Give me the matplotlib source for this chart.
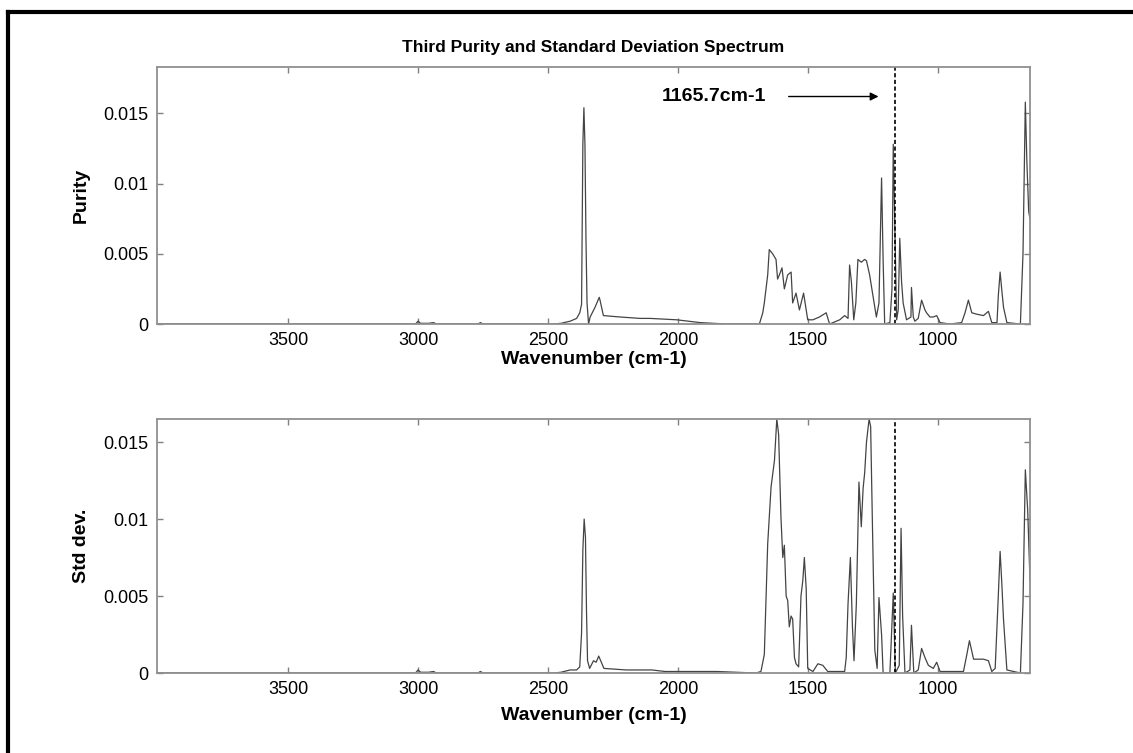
import numpy as np
import matplotlib
matplotlib.use("Agg")
import matplotlib.pyplot as plt
from matplotlib.lines import Line2D
from matplotlib.ticker import FixedLocator, FuncFormatter

plt.rcParams['font.family'] = ['Liberation Sans', 'DejaVu Sans']

# Purity spectrum (wavenumber cm-1, value)
purity_wn = [4000, 3010, 3000, 2990, 2960, 2940, 2930, 2770, 2760, 2750,
             2480, 2450, 2415, 2390, 2378, 2371, 2366, 2362, 2358, 2354,
             2350, 2344, 2338, 2319, 2303, 2300, 2287, 2223, 2146, 2108,
             2005, 1915, 1813, 1687, 1674, 1668, 1655, 1649, 1636, 1623,
             1617, 1610, 1600, 1591, 1578, 1565, 1559, 1546, 1533, 1517,
             1501, 1481, 1456, 1430, 1417, 1378, 1359, 1346, 1340, 1333,
             1324, 1316, 1308, 1295, 1282, 1275, 1263, 1250, 1237, 1227,
             1217, 1211, 1205, 1185, 1177, 1172, 1166, 1159, 1153, 1147,
             1140, 1134, 1121, 1104, 1102, 1095, 1089, 1076, 1063, 1050,
             1044, 1031, 1018, 1005, 992, 954, 909, 896, 883, 870,
             851, 825, 806, 793, 773, 768, 761, 755, 748, 735,
             683, 673, 668, 664, 658, 651, 646]
purity_val = [0, 0, 0.0002, 0.00005, 0.00005, 0.0001, 0, 0, 0.0001, 0,
              0, 0.00005, 0.0002, 0.0004, 0.0008, 0.0014, 0.0128, 0.0154, 0.0128, 0.006,
              0.0015, 0.0, 0.0005, 0.0012, 0.0019, 0.0017, 0.0006, 0.0005, 0.0004, 0.0004,
              0.0003, 0.0001, 0, 0, 0.0008, 0.0015, 0.0035, 0.0053, 0.0050, 0.0046,
              0.0032, 0.0035, 0.0040, 0.0025, 0.0035, 0.0037, 0.0015, 0.0022, 0.0010, 0.0022,
              0.0003, 0.0003, 0.0005, 0.0008, 0.0, 0.0003, 0.0006, 0.0004, 0.0042, 0.0030,
              0.0003, 0.0015, 0.0046, 0.0044, 0.0046, 0.0045, 0.0035, 0.0020, 0.0005, 0.0015,
              0.0104, 0.0045, 0.0, 0.0001, 0.0025, 0.0128, 0.0070, 0.0003, 0.0010, 0.0061,
              0.0030, 0.0015, 0.0003, 0.0005, 0.0026, 0.0005, 0.0002, 0.0004, 0.0017, 0.0010,
              0.0008, 0.0005, 0.0005, 0.0006, 0.0001, 0.0, 0.0001, 0.0008, 0.0017, 0.0008,
              0.0007, 0.0006, 0.0009, 0.0001, 0.0001, 0.0020, 0.0037, 0.0025, 0.0012, 0.0001,
              0.0, 0.0050, 0.0110, 0.0158, 0.0115, 0.0080, 0.0075]

# Standard deviation spectrum
std_wn = [4000, 3010, 3000, 2990, 2960, 2940, 2930, 2770, 2760, 2750,
          2480, 2450, 2415, 2390, 2378, 2371, 2366, 2361, 2356, 2352,
          2348, 2340, 2325, 2315, 2305, 2295, 2285, 2200, 2100, 2050,
          1950, 1850, 1700, 1681, 1668, 1655, 1642, 1629, 1620, 1613,
          1604, 1597, 1591, 1584, 1578, 1572, 1565, 1559, 1552, 1546,
          1536, 1527, 1520, 1514, 1507, 1501, 1481, 1462, 1443, 1424,
          1359, 1353, 1346, 1337, 1329, 1323, 1314, 1304, 1295, 1288,
          1282, 1275, 1265, 1259, 1252, 1243, 1234, 1227, 1217, 1211,
          1185, 1172, 1164, 1149, 1142, 1136, 1127, 1108, 1102, 1093,
          1076, 1063, 1050, 1037, 1018, 1005, 992, 902, 889, 879,
          863, 825, 806, 793, 780, 768, 761, 755, 748, 735,
          683, 673, 664, 655, 646]
std_val = [0, 0, 0.0002, 0.00005, 0.00005, 0.0001, 0, 0, 0.0001, 0,
           0, 0.00005, 0.0002, 0.0002, 0.0004, 0.0026, 0.0080, 0.0100, 0.0088, 0.0040,
           0.0008, 0.0003, 0.0008, 0.0007, 0.0011, 0.0007, 0.0003, 0.0002, 0.0002, 0.0001,
           0.0001, 0.0001, 0, 0.0001, 0.0012, 0.0084, 0.0121, 0.0138, 0.0165, 0.0155,
           0.0101, 0.0075, 0.0083, 0.0050, 0.0047, 0.0030, 0.0037, 0.0035, 0.0010, 0.0006,
           0.0004, 0.0050, 0.0060, 0.0075, 0.0055, 0.0003, 0.0001, 0.0006, 0.0005, 0.0001,
           0.0001, 0.0010, 0.0045, 0.0075, 0.0030, 0.0008, 0.0045, 0.0124, 0.0095, 0.0120,
           0.0130, 0.0150, 0.0165, 0.0160, 0.0095, 0.0015, 0.0003, 0.0049, 0.0025, 0.0,
           0.0, 0.0052, 0.0, 0.0005, 0.0094, 0.0037, 0.0, 0.0002, 0.0031, 0.0,
           0.0002, 0.0016, 0.0010, 0.0005, 0.0003, 0.0007, 0.0001, 0.0001, 0.0012, 0.0021,
           0.0009, 0.0009, 0.0008, 0.0001, 0.0003, 0.0050, 0.0079, 0.0060, 0.0035, 0.0002,
           0.0, 0.0045, 0.0132, 0.0106, 0.0060]

marker_wn = 1165.7
x_ticks = [3500, 3000, 2500, 2000, 1500, 1000]
y_ticks = [0, 0.005, 0.01, 0.015]


def style_axes(ax, ymax, xpad):
    ax.set_xlim(4004, 646)
    ax.set_ylim(0, ymax)
    ax.xaxis.set_major_locator(FixedLocator(x_ticks))
    ax.yaxis.set_major_locator(FixedLocator(y_ticks))
    ax.yaxis.set_major_formatter(FuncFormatter(lambda v, p: '%g' % v))
    ax.tick_params(direction='in', top=True, right=True, length=4, width=1,
                   color='#808080', labelsize=13, pad=6)
    for s in ax.spines.values():
        s.set_color('#909090')
        s.set_linewidth(1.3)
    ax.set_xlabel('Wavenumber (cm-1)', fontsize=14, fontweight='bold', labelpad=xpad)


fig = plt.figure(figsize=(11.33, 7.53), dpi=100)
ax1 = fig.add_axes([0.1386, 0.5697, 0.7705, 0.3413])
ax2 = fig.add_axes([0.1386, 0.1062, 0.7705, 0.3374])

ax1.plot(purity_wn, purity_val, color='#444444', linewidth=0.9)
ax1.axvline(marker_wn, color='black', linestyle='--', linewidth=1.2, dashes=(2.5, 1.5))
style_axes(ax1, 0.0183, 1)
ax1.set_ylabel('Purity', fontsize=14, fontweight='bold', labelpad=10)
ax1.set_title('Third Purity and Standard Deviation Spectrum', fontsize=12.5,
              fontweight='bold', pad=11)
ax1.annotate('', xy=(1218, 0.0162), xytext=(1585, 0.0162),
             arrowprops=dict(arrowstyle='-|>', color='black', lw=1, mutation_scale=12))
ax1.text(1860, 0.0162, '%.1fcm-1' % marker_wn, fontsize=14, fontweight='bold',
         ha='center', va='center')

ax2.plot(std_wn, std_val, color='#444444', linewidth=0.9)
ax2.axvline(marker_wn, color='black', linestyle='--', linewidth=1.2, dashes=(2.5, 1.5))
style_axes(ax2, 0.0165, 6)
ax2.set_ylabel('Std dev.', fontsize=14, fontweight='bold', labelpad=10)

# page frame (top and left edges)
fig.add_artist(Line2D([0.0075, 1.0], [0.9845, 0.9845], transform=fig.transFigure,
                      color='black', linewidth=3))
fig.add_artist(Line2D([0.0075, 0.0075], [0.0, 0.9845], transform=fig.transFigure,
                      color='black', linewidth=3))

fig.savefig('out.png', dpi=100)
